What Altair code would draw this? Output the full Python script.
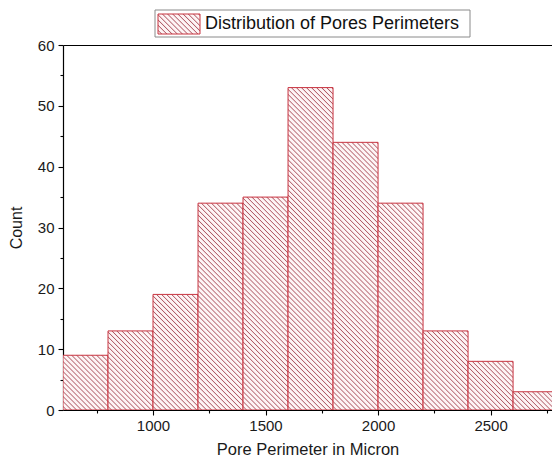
import altair as alt
import pandas as pd

# ---- data ----
bin_start = [600, 800, 1000, 1200, 1400, 1600, 1800, 2000, 2200, 2400, 2600]
bin_end = [800, 1000, 1200, 1400, 1600, 1800, 2000, 2200, 2400, 2600, 2800]
counts = [9, 13, 19, 34, 35, 53, 44, 34, 13, 8, 3]
legend_label = "Distribution of Pores Perimeters"
x_title = "Pore Perimeter in Micron"
y_title = "Count"
x_major = [1000, 1500, 2000, 2500]
x_minor = [750, 1250, 1750, 2250, 2750]
y_major = [0, 10, 20, 30, 40, 50, 60]
y_minor = [5, 15, 25, 35, 45, 55]

# ---- layout ----
W, H = 489, 365
X_DOM = [600, 2773]
Y_DOM = [0, 60]
sx = W / (X_DOM[1] - X_DOM[0])
sy = H / (Y_DOM[1] - Y_DOM[0])

FONT = "Liberation Sans"
BAR_STROKE = "#c83440"
HATCH_LINE = "#b05a65"
HATCH_BG = "#fdf4f5"


def hatch(w, h, period=5.0):
    """Diagonal (top-left to bottom-right) hatch as a striped linear gradient."""
    s = (w + h) / (w * w + h * h)
    x2 = w * s
    y2 = 1 - h * s
    n = max(1, int(round((w + h) / period)))
    stops = []
    for k in range(n):
        stops += [(k / n, HATCH_BG), ((k + 0.5) / n, HATCH_BG),
                  ((k + 0.72) / n, HATCH_LINE), ((k + 0.94) / n, HATCH_BG)]
    stops.append((1.0, HATCH_BG))
    return alt.Gradient(
        gradient="linear", x1=0, y1=1, x2=x2, y2=y2,
        stops=[alt.GradientStop(offset=min(1.0, o), color=c) for o, c in stops],
    )


df = pd.DataFrame({"bin_start": bin_start, "bin_end": bin_end, "count": counts})

xscale = alt.Scale(domain=X_DOM, nice=False, zero=False)
yscale = alt.Scale(domain=Y_DOM, nice=False, zero=True)

axis_common = dict(
    domainColor="black", domainWidth=1.2, tickColor="black", tickWidth=1.1,
    labelFont=FONT, labelColor="#1a1a1a", titleFont=FONT, titleColor="#1a1a1a",
    titleFontWeight="normal", grid=False,
)

x_axis_main = alt.Axis(
    values=x_major, format="d", tickSize=5, labelFontSize=15, labelPadding=3,
    title=x_title, titleFontSize=16.5, titlePadding=8, **axis_common,
)
y_axis_main = alt.Axis(
    values=y_major, format="d", tickSize=5, labelFontSize=15, labelPadding=4,
    title=y_title, titleFontSize=16, titlePadding=13, **axis_common,
)

layers = []
for i in range(len(counts)):
    w = (bin_end[i] - bin_start[i]) * sx
    h = counts[i] * sy
    sub = df.iloc[[i]]
    layers.append(
        alt.Chart(sub).mark_bar(
            fill=hatch(w, h), stroke=BAR_STROKE, strokeWidth=1, clip=True
        ).encode(
            x=alt.X("bin_start:Q", scale=xscale, axis=x_axis_main if i == 0 else None),
            x2="bin_end:Q",
            y=alt.Y("count:Q", scale=yscale, axis=y_axis_main if i == 0 else None),
            y2=alt.datum(0),
        )
    )

# frame: top border + minor y ticks
frame = alt.Chart(df).mark_point(opacity=0, clip=True).encode(
    x=alt.X("bin_start:Q", scale=xscale,
            axis=alt.Axis(orient="top", labels=False, ticks=False, title=None,
                          domainColor="black", domainWidth=1.2, grid=False)),
    y=alt.Y("count:Q", scale=yscale,
            axis=alt.Axis(orient="left", values=y_minor, labels=False, domain=False,
                          tickSize=3, tickColor="black", tickWidth=1.1,
                          title=None, grid=False)),
)

# minor x ticks
xminor = alt.Chart(df).mark_point(opacity=0, clip=True).encode(
    x=alt.X("bin_start:Q", scale=xscale,
            axis=alt.Axis(orient="bottom", values=x_minor, labels=False, domain=False,
                          tickSize=3, tickColor="black", tickWidth=1.1,
                          title=None, grid=False)),
)

# legend (drawn manually so the symbol can be hatched)
leg_df = pd.DataFrame({"label": [legend_label]})
leg_box = alt.Chart(leg_df).mark_rect(fill="white", stroke="#8a8a8a", strokeWidth=1).encode(
    x=alt.value(92), x2=alt.value(407), y=alt.value(-35), y2=alt.value(-8)
)
leg_sym = alt.Chart(leg_df).mark_rect(fill=hatch(42, 20), stroke=BAR_STROKE, strokeWidth=1).encode(
    x=alt.value(95), x2=alt.value(137), y=alt.value(-31), y2=alt.value(-11)
)
leg_txt = alt.Chart(leg_df).mark_text(
    align="left", baseline="middle", fontSize=18, font=FONT, color="#111111"
).encode(x=alt.value(142), y=alt.value(-21), text="label:N")

chart = alt.layer(
    *layers, frame, xminor, leg_box, leg_sym, leg_txt
).resolve_axis(
    x="independent", y="independent"
).properties(
    width=W, height=H,
    autosize=alt.AutoSizeParams(type="none"),
    padding={"left": 63, "top": 45, "right": 0, "bottom": 52},
    background="white",
).configure_view(stroke=None)

chart.save("out.html", embed_options={"renderer": "svg", "actions": False})
